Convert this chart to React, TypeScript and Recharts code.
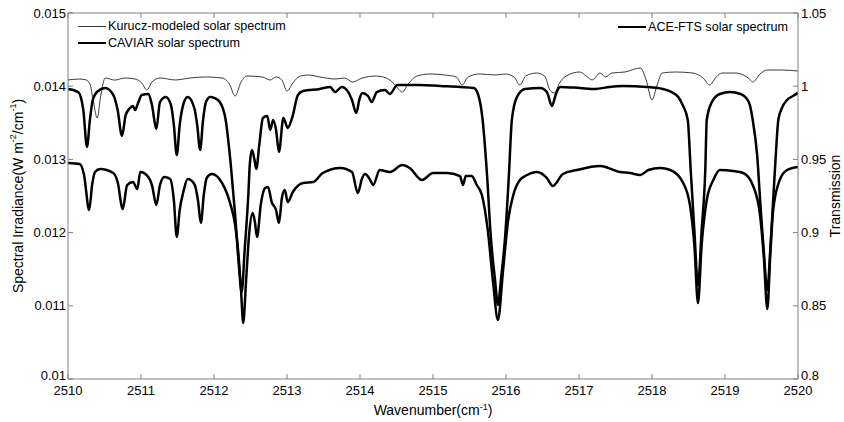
import React from 'react';
import { LineChart, Line, XAxis, YAxis, Legend } from 'recharts';

const FONT = '"Liberation Sans", Arial, Helvetica, sans-serif';
const AXIS_GREY = '#808080';

// [wavenumber cm-1, irradiance W m-2/cm-1]
const kurucz: [number, number][] = [
  [2510.0, 0.014085], [2510.16, 0.014098], [2510.25, 0.014085], [2510.3, 0.01403],
  [2510.34, 0.013839], [2510.4, 0.013566], [2510.45, 0.01388], [2510.51, 0.014112],
  [2510.64, 0.014084], [2510.78, 0.014112], [2510.92, 0.014098], [2511.01, 0.014044],
  [2511.08, 0.013948], [2511.15, 0.014057], [2511.26, 0.014112], [2511.47, 0.014085],
  [2511.67, 0.014112], [2511.88, 0.014126], [2512.11, 0.014112], [2512.21, 0.01403],
  [2512.29, 0.013866], [2512.37, 0.014057], [2512.45, 0.014139], [2512.66, 0.014126],
  [2512.77, 0.014085], [2512.85, 0.014126], [2512.93, 0.014085], [2513.0, 0.013934],
  [2513.08, 0.014044], [2513.18, 0.014139], [2513.29, 0.014153], [2513.45, 0.014126],
  [2513.66, 0.014098], [2513.79, 0.014112], [2513.9, 0.014057], [2514.03, 0.014112],
  [2514.23, 0.014139], [2514.41, 0.014085], [2514.49, 0.014003], [2514.58, 0.013921],
  [2514.66, 0.01403], [2514.78, 0.014139], [2514.96, 0.014167], [2515.16, 0.014153],
  [2515.32, 0.014126], [2515.4, 0.014016], [2515.48, 0.014126], [2515.64, 0.014167],
  [2515.85, 0.014153], [2515.99, 0.014167], [2516.11, 0.014126], [2516.19, 0.014016],
  [2516.27, 0.014139], [2516.42, 0.01418], [2516.53, 0.014139], [2516.6, 0.013948],
  [2516.66, 0.013907], [2516.74, 0.014057], [2516.85, 0.014153], [2517.01, 0.014194],
  [2517.1, 0.014139], [2517.18, 0.014085], [2517.29, 0.01418], [2517.36, 0.014126],
  [2517.45, 0.01418], [2517.63, 0.014194], [2517.84, 0.014249], [2517.92, 0.014085],
  [2518.0, 0.013811], [2518.07, 0.014016], [2518.14, 0.01418], [2518.32, 0.014194],
  [2518.56, 0.01418], [2518.7, 0.014112], [2518.79, 0.014016], [2518.88, 0.014126],
  [2518.96, 0.01418], [2519.14, 0.01418], [2519.32, 0.014112], [2519.38, 0.014057],
  [2519.48, 0.014167], [2519.58, 0.014221], [2519.77, 0.014221], [2520.0, 0.014208],
];

const caviar: [number, number][] = [
  [2510.0, 0.012951], [2510.16, 0.012937], [2510.22, 0.012787], [2510.29, 0.012309],
  [2510.33, 0.01265], [2510.37, 0.012828], [2510.44, 0.012869], [2510.62, 0.012814],
  [2510.68, 0.012691], [2510.75, 0.012322], [2510.81, 0.01265], [2510.89, 0.012691],
  [2510.95, 0.012596], [2510.99, 0.012828], [2511.1, 0.01276], [2511.15, 0.01265],
  [2511.21, 0.012377], [2511.26, 0.01265], [2511.32, 0.01276], [2511.4, 0.012732],
  [2511.45, 0.012445], [2511.49, 0.01194], [2511.53, 0.012309], [2511.58, 0.012555],
  [2511.64, 0.012732], [2511.73, 0.012664], [2511.78, 0.012445], [2511.82, 0.012131],
  [2511.86, 0.012514], [2511.9, 0.012746], [2511.97, 0.012801], [2512.11, 0.012678],
  [2512.22, 0.012404], [2512.29, 0.012104], [2512.33, 0.011762], [2512.37, 0.011216],
  [2512.4, 0.010765], [2512.44, 0.011352], [2512.48, 0.011967], [2512.53, 0.012268],
  [2512.56, 0.012145], [2512.59, 0.01194], [2512.64, 0.012377], [2512.7, 0.012609],
  [2512.74, 0.012623], [2512.79, 0.012418], [2512.85, 0.012309], [2512.89, 0.012131],
  [2512.93, 0.012473], [2512.97, 0.012582], [2513.01, 0.012418], [2513.08, 0.012555],
  [2513.22, 0.012678], [2513.36, 0.012691], [2513.49, 0.012814], [2513.73, 0.012883],
  [2513.89, 0.012828], [2513.97, 0.012541], [2514.03, 0.012746], [2514.07, 0.012801],
  [2514.14, 0.012719], [2514.18, 0.01265], [2514.27, 0.012855], [2514.41, 0.012828],
  [2514.58, 0.012923], [2514.68, 0.012883], [2514.85, 0.012719], [2515.0, 0.012814],
  [2515.19, 0.012814], [2515.37, 0.012773], [2515.41, 0.01265], [2515.45, 0.012773],
  [2515.53, 0.012773], [2515.6, 0.01265], [2515.67, 0.012514], [2515.75, 0.012036],
  [2515.82, 0.011352], [2515.89, 0.010806], [2515.96, 0.011489], [2516.03, 0.012172],
  [2516.1, 0.012514], [2516.19, 0.012719], [2516.29, 0.012787], [2516.42, 0.012828],
  [2516.56, 0.012746], [2516.64, 0.012637], [2516.78, 0.012801], [2516.97, 0.012855],
  [2517.29, 0.01291], [2517.56, 0.012828], [2517.7, 0.012814], [2517.84, 0.012787],
  [2517.95, 0.012855], [2518.11, 0.012883], [2518.25, 0.012855], [2518.42, 0.012691],
  [2518.52, 0.012377], [2518.58, 0.01183], [2518.63, 0.011038], [2518.68, 0.01183],
  [2518.75, 0.012445], [2518.84, 0.012719], [2518.93, 0.012855], [2519.11, 0.012842],
  [2519.25, 0.012814], [2519.38, 0.01265], [2519.48, 0.01224], [2519.53, 0.011694],
  [2519.58, 0.010956], [2519.62, 0.011694], [2519.66, 0.012309], [2519.75, 0.012719],
  [2519.85, 0.012855], [2520.0, 0.012896],
];

// [wavenumber cm-1, transmission]
const aceFts: [number, number][] = [
  [2510.0, 0.9981], [2510.14, 0.996], [2510.21, 0.9837], [2510.26, 0.9585],
  [2510.3, 0.9769], [2510.34, 0.9906], [2510.41, 0.9967], [2510.51, 0.9988],
  [2510.62, 0.994], [2510.68, 0.9837], [2510.74, 0.966], [2510.79, 0.9803],
  [2510.85, 0.9851], [2510.89, 0.9865], [2510.92, 0.9837], [2510.96, 0.9885],
  [2511.01, 0.994], [2511.1, 0.9947], [2511.15, 0.9872], [2511.21, 0.9708],
  [2511.26, 0.9892], [2511.34, 0.9926], [2511.41, 0.9872], [2511.45, 0.9735],
  [2511.49, 0.953], [2511.53, 0.9735], [2511.59, 0.9892], [2511.64, 0.9926],
  [2511.73, 0.9851], [2511.77, 0.9735], [2511.81, 0.9564], [2511.85, 0.9769],
  [2511.89, 0.9892], [2511.95, 0.9926], [2512.01, 0.9919], [2512.08, 0.9892],
  [2512.16, 0.9769], [2512.23, 0.9462], [2512.29, 0.912], [2512.34, 0.8779],
  [2512.38, 0.8594], [2512.42, 0.8881], [2512.47, 0.9257], [2512.49, 0.9462],
  [2512.52, 0.9564], [2512.55, 0.951], [2512.58, 0.9435], [2512.62, 0.9598],
  [2512.67, 0.9783], [2512.73, 0.9797], [2512.77, 0.9701], [2512.81, 0.9769],
  [2512.85, 0.9701], [2512.89, 0.9551], [2512.95, 0.9783], [2513.01, 0.9715],
  [2513.07, 0.9783], [2513.15, 0.994], [2513.22, 0.9967], [2513.45, 0.9981],
  [2513.59, 0.9995], [2513.66, 0.996], [2513.75, 0.9995], [2513.84, 0.996],
  [2513.89, 0.9906], [2513.95, 0.9817], [2513.99, 0.9906], [2514.03, 0.9954],
  [2514.11, 0.9933], [2514.16, 0.9892], [2514.23, 0.996], [2514.34, 0.9974],
  [2514.41, 0.9947], [2514.51, 1.0008], [2514.82, 1.0008], [2515.1, 1.0001],
  [2515.37, 0.9995], [2515.56, 0.9988], [2515.62, 0.994], [2515.68, 0.9769],
  [2515.74, 0.9394], [2515.79, 0.8984], [2515.85, 0.8676], [2515.89, 0.8506],
  [2515.93, 0.8676], [2515.99, 0.8984], [2516.04, 0.9394], [2516.08, 0.9769],
  [2516.15, 0.9926], [2516.26, 0.9981], [2516.47, 0.9988], [2516.56, 0.996],
  [2516.63, 0.9865], [2516.68, 0.994], [2516.74, 0.9995], [2517.01, 0.9988],
  [2517.22, 0.9981], [2517.42, 0.9995], [2517.6, 1.0001], [2517.93, 0.9995],
  [2518.15, 0.9981], [2518.27, 0.996], [2518.36, 0.9926], [2518.42, 0.9872],
  [2518.49, 0.9769], [2518.53, 0.9428], [2518.58, 0.9018], [2518.63, 0.8642],
  [2518.68, 0.9018], [2518.73, 0.9428], [2518.75, 0.9769], [2518.82, 0.9892],
  [2518.93, 0.9947], [2519.07, 0.996], [2519.21, 0.9947], [2519.29, 0.9919],
  [2519.34, 0.9872], [2519.38, 0.9769], [2519.44, 0.953], [2519.49, 0.9155],
  [2519.53, 0.8881], [2519.58, 0.8608], [2519.62, 0.8881], [2519.66, 0.9223],
  [2519.7, 0.9564], [2519.73, 0.9769], [2519.78, 0.9851], [2519.85, 0.9906],
  [2519.93, 0.9933], [2520.0, 0.9954],
];

const wavenumberTicks = [2510, 2511, 2512, 2513, 2514, 2515, 2516, 2517, 2518, 2519, 2520];
const irradianceTicks = [0.01, 0.011, 0.012, 0.013, 0.014, 0.015];
const transmissionTicks = [0.8, 0.85, 0.9, 0.95, 1, 1.05];

const toRows = (pairs: [number, number][]) => pairs.map(([wn, v]) => ({ wn, v }));

const tickStyle = { fill: '#000', fontSize: 13, fontFamily: FONT };

// y tick label; the lowest one sits a little high, clear of the x labels
const YTick = (props: any) => {
  const { x, y, payload, textAnchor, lowest } = props;
  const lift = payload.value === lowest ? -4 : 0;
  return (
    <text x={x} y={y + lift} textAnchor={textAnchor} dominantBaseline="central" {...tickStyle}>
      {String(payload.value)}
    </text>
  );
};

// where each legend entry sits (line sample left edge, vertical centre)
const legendSpots: Record<string, { left: number; top: number }> = {
  'Kurucz-modeled solar spectrum': { left: 78, top: 26 },
  'CAVIAR solar spectrum': { left: 78, top: 43 },
  'ACE-FTS solar spectrum': { left: 618, top: 27 },
};

function SpectrumLegend(props: any) {
  const items = props.payload || [];
  return (
    <div style={{ position: 'relative', width: 844, height: 0 }}>
      {items.map((item: any) => {
        const spot = legendSpots[item.value];
        if (!spot) return null;
        const w = item.payload?.strokeWidth ?? 1;
        return (
          <div
            key={item.value}
            style={{
              position: 'absolute',
              left: spot.left,
              top: spot.top - 8,
              height: 16,
              display: 'flex',
              alignItems: 'center',
              whiteSpace: 'nowrap',
              fontFamily: FONT,
              fontSize: 12.6,
              color: '#000',
            }}
          >
            <span
              style={{
                display: 'inline-block',
                width: 28,
                height: 0,
                borderTop: `${w}px solid ${item.color}`,
                marginRight: 2,
              }}
            />
            {item.value}
          </div>
        );
      })}
    </div>
  );
}

const XTitle = (props: any) => {
  const vb = props.viewBox || { x: 68, width: 730 };
  const cx = vb.x + vb.width / 2;
  return (
    <text x={cx} y={415} textAnchor="middle" fontFamily={FONT} fontSize={14} fill="#000">
      Wavenumber(cm
      <tspan dy={-5} fontSize={9}>-1</tspan>
      <tspan dy={5}>)</tspan>
    </text>
  );
};

const LeftTitle = () => (
  <text
    x={18}
    y={196}
    transform="rotate(-90 18 196)"
    textAnchor="middle"
    dominantBaseline="central"
    fontFamily={FONT}
    fontSize={14}
    fill="#000"
  >
    Spectral Irradiance(W m
    <tspan dy={-5} fontSize={9}>-2</tspan>
    <tspan dy={5}>/cm</tspan>
    <tspan dy={-5} fontSize={9}>-1</tspan>
    <tspan dy={5}>)</tspan>
  </text>
);

const RightTitle = () => (
  <text
    x={835}
    y={196}
    transform="rotate(-90 835 196)"
    textAnchor="middle"
    dominantBaseline="central"
    fontFamily={FONT}
    fontSize={14}
    fill="#000"
  >
    Transmission
  </text>
);

export default function App() {
  return (
    <div style={{ position: 'absolute', left: 0, top: 0, background: '#fff' }}>
      <LineChart width={844} height={422} margin={{ top: 0, right: 0, bottom: 0, left: 0 }}>
        <XAxis
          xAxisId="bottom"
          dataKey="wn"
          type="number"
          domain={[2510, 2520]}
          ticks={wavenumberTicks}
          interval={0}
          allowDataOverflow
          height={43}
          stroke={AXIS_GREY}
          tickSize={-5}
          tickMargin={12}
          tick={tickStyle}
          label={{ content: <XTitle /> }}
        />
        <XAxis
          xAxisId="top"
          orientation="top"
          dataKey="wn"
          type="number"
          domain={[2510, 2520]}
          ticks={wavenumberTicks}
          interval={0}
          allowDataOverflow
          height={13}
          stroke={AXIS_GREY}
          tickSize={-5}
          tick={() => <g />}
        />
        <YAxis
          yAxisId="left"
          type="number"
          domain={[0.01, 0.015]}
          ticks={irradianceTicks}
          interval={0}
          allowDataOverflow
          width={68}
          stroke={AXIS_GREY}
          tickSize={-5}
          tickMargin={7}
          tick={<YTick lowest={0.01} />}
          label={{ content: <LeftTitle /> }}
        />
        <YAxis
          yAxisId="right"
          orientation="right"
          type="number"
          domain={[0.8, 1.05]}
          ticks={transmissionTicks}
          interval={0}
          allowDataOverflow
          width={46}
          stroke={AXIS_GREY}
          tickSize={-5}
          tickMargin={8}
          tick={<YTick lowest={0.8} />}
          label={{ content: <RightTitle /> }}
        />
        <Legend
          verticalAlign="top"
          content={<SpectrumLegend />}
          wrapperStyle={{ left: 0, top: 0, width: 844, height: 0, margin: 0, padding: 0 }}
        />
        <Line
          name="Kurucz-modeled solar spectrum"
          data={toRows(kurucz)}
          dataKey="v"
          xAxisId="bottom"
          yAxisId="left"
          type="monotone"
          stroke="#3c3c3c"
          strokeWidth={1}
          dot={false}
          isAnimationActive={false}
        />
        <Line
          name="CAVIAR solar spectrum"
          data={toRows(caviar)}
          dataKey="v"
          xAxisId="bottom"
          yAxisId="left"
          type="monotone"
          stroke="#000"
          strokeWidth={2.5}
          dot={false}
          isAnimationActive={false}
        />
        <Line
          name="ACE-FTS solar spectrum"
          data={toRows(aceFts)}
          dataKey="v"
          xAxisId="bottom"
          yAxisId="right"
          type="monotone"
          stroke="#000"
          strokeWidth={2.5}
          dot={false}
          isAnimationActive={false}
        />
      </LineChart>
    </div>
  );
}
